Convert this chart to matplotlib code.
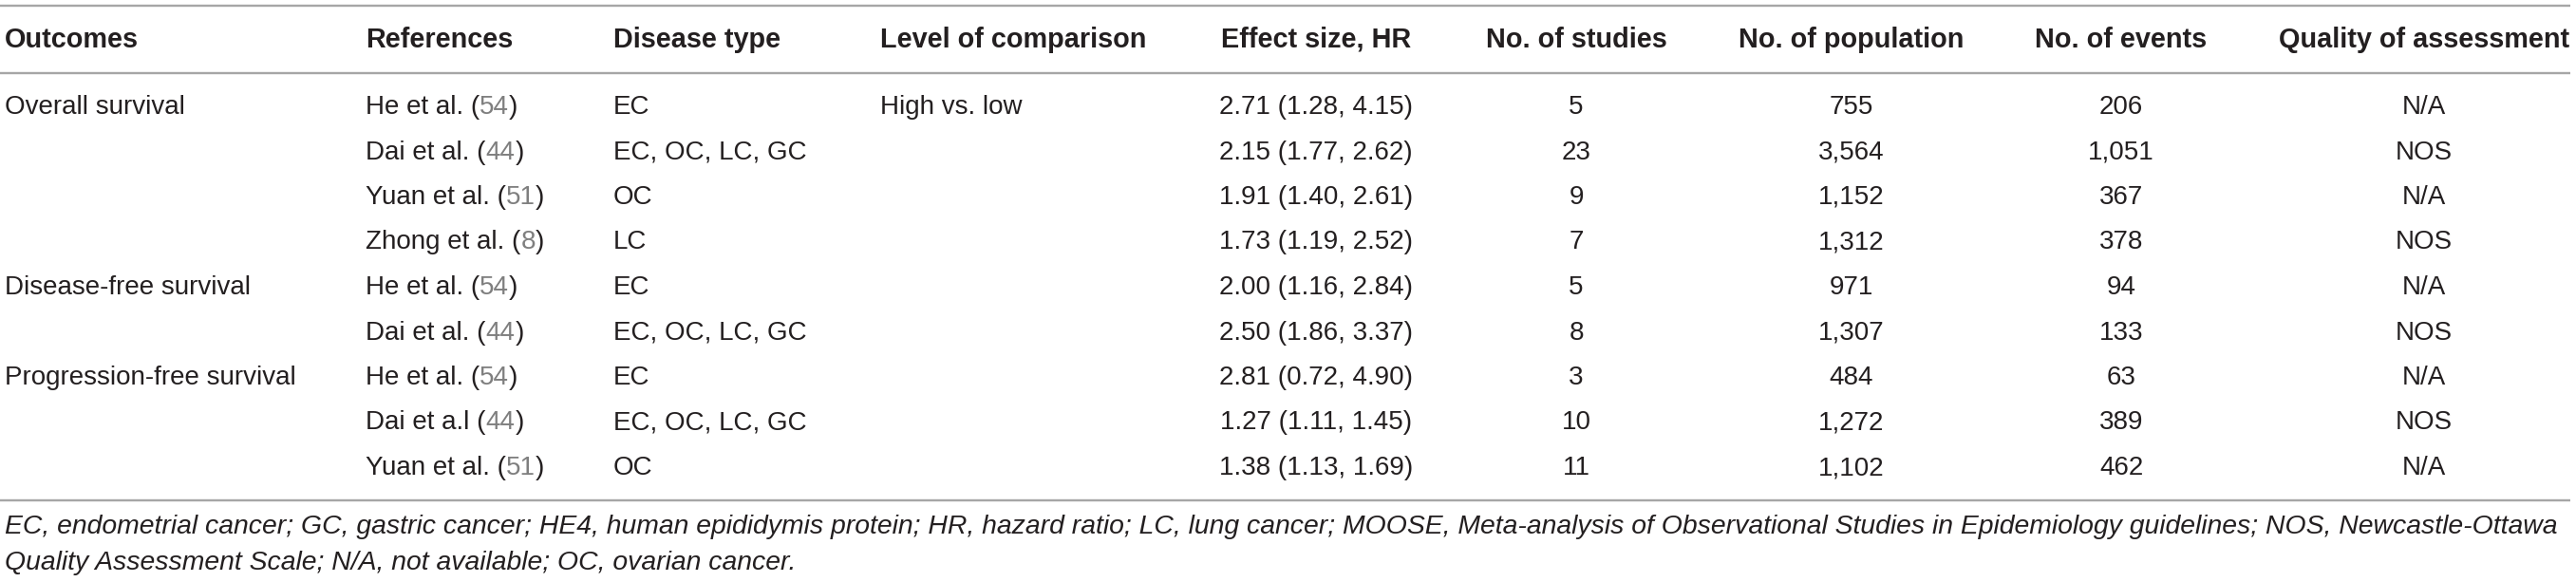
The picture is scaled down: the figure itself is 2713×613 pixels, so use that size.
import matplotlib
matplotlib.use("Agg")
import matplotlib.pyplot as plt

plt.rcParams['font.family'] = ['Liberation Sans', 'DejaVu Sans']

headers = ["Outcomes", "References", "Disease type", "Level of comparison",
           "Effect size, HR", "No. of studies", "No. of population",
           "No. of events", "Quality of assessment"]

outcomes = ["Overall survival", "", "", "", "Disease-free survival", "",
            "Progression-free survival", "", ""]
authors = ["He et al.", "Dai et al.", "Yuan et al.", "Zhong et al.", "He et al.",
           "Dai et al.", "He et al.", "Dai et a.l", "Yuan et al."]
ref_nums = ["54", "44", "51", "8", "54", "44", "54", "44", "51"]
disease = ["EC", "EC, OC, LC, GC", "OC", "LC", "EC", "EC, OC, LC, GC", "EC",
           "EC, OC, LC, GC", "OC"]
comparison = ["High vs. low", "", "", "", "", "", "", "", ""]
hr = [2.71, 2.15, 1.91, 1.73, 2.00, 2.50, 2.81, 1.27, 1.38]
ci_low = [1.28, 1.77, 1.40, 1.19, 1.16, 1.86, 0.72, 1.11, 1.13]
ci_high = [4.15, 2.62, 2.61, 2.52, 2.84, 3.37, 4.90, 1.45, 1.69]
studies = [5, 23, 9, 7, 5, 8, 3, 10, 11]
population = [755, 3564, 1152, 1312, 971, 1307, 484, 1272, 1102]
events = [206, 1051, 367, 378, 94, 133, 63, 389, 462]
quality = ["N/A", "NOS", "N/A", "NOS", "N/A", "NOS", "N/A", "NOS", "N/A"]

footnote = ["EC, endometrial cancer; GC, gastric cancer; HE4, human epididymis protein; "
            "HR, hazard ratio; LC, lung cancer; MOOSE, Meta-analysis of Observational "
            "Studies in Epidemiology guidelines; NOS, Newcastle-Ottawa",
            "Quality Assessment Scale; N/A, not available; OC, ovarian cancer."]

W, H = 2713, 613
fig = plt.figure(figsize=(W / 100, H / 100), dpi=100)
ax = fig.add_axes([0, 0, 1, 1])
ax.set_xlim(0, W)
ax.set_ylim(H, 0)
ax.axis("off")

TXT = "#231f20"
GREY = "#7f7f7f"
LINE = "#a6a6a6"
FS = 20

# column x: left-aligned for first four, centred for the rest
col_x = [5, 385, 646, 927, 1386, 1660, 1950, 2234, 2553]
col_ha = ["left"] * 4 + ["center"] * 5

header_y = 42
row_y0 = 113
row_dy = 47.5

for x, ha, h in zip(col_x, col_ha, headers):
    ax.text(x, header_y, h, ha=ha, va="center", fontsize=20.8, fontweight="bold", color=TXT)

for yline in (6, 77, 527):
    ax.plot([0, 2707], [yline, yline], color=LINE, lw=1.7, solid_capstyle="butt")

fig.canvas.draw()
renderer = fig.canvas.get_renderer()


def piece(x, y, s, color):
    t = ax.text(x, y, s, ha="left", va="center", fontsize=FS, color=color)
    return x + t.get_window_extent(renderer).width


for i in range(len(authors)):
    y = row_y0 + row_dy * i
    ax.text(col_x[0], y, outcomes[i], ha="left", va="center", fontsize=FS, color=TXT)
    x = piece(col_x[1], y, authors[i] + " (", TXT)
    x = piece(x, y, ref_nums[i], GREY)
    piece(x, y, ")", TXT)
    ax.text(col_x[2], y, disease[i], ha="left", va="center", fontsize=FS, color=TXT)
    ax.text(col_x[3], y, comparison[i], ha="left", va="center", fontsize=FS, color=TXT)
    ax.text(col_x[4], y, f"{hr[i]:.2f} ({ci_low[i]:.2f}, {ci_high[i]:.2f})",
            ha="center", va="center", fontsize=FS, color=TXT)
    ax.text(col_x[5], y, str(studies[i]), ha="center", va="center", fontsize=FS, color=TXT)
    ax.text(col_x[6], y, f"{population[i]:,}", ha="center", va="center", fontsize=FS, color=TXT)
    ax.text(col_x[7], y, f"{events[i]:,}", ha="center", va="center", fontsize=FS, color=TXT)
    ax.text(col_x[8], y, quality[i], ha="center", va="center", fontsize=FS, color=TXT)

for k, line in enumerate(footnote):
    ax.text(5, 555 + 38 * k, line, ha="left", va="center", fontsize=20.4,
            style="italic", color=TXT)

fig.savefig("out.png", dpi=100)
